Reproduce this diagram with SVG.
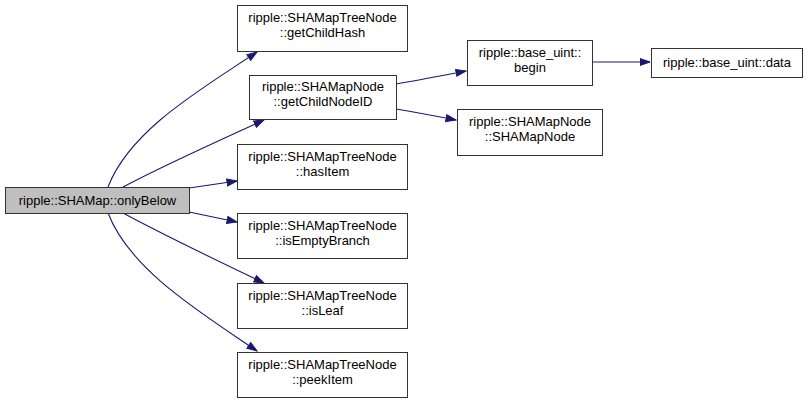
<svg xmlns="http://www.w3.org/2000/svg" width="808" height="403" viewBox="0 0 808 403">
<defs>
<marker id="ah" markerWidth="12" markerHeight="10" refX="10.5" refY="4" orient="auto" markerUnits="userSpaceOnUse">
<path d="M0.5,0.5 L10.5,4 L0.5,7.5 z" fill="#191970" stroke="#191970" stroke-width="1"/>
</marker>
</defs>
<style>
.n rect{fill:#ffffff;stroke:#333333;stroke-width:1}
.n.main rect{fill:#bfbfbf}
.n text{font-family:"Liberation Sans",Arial,sans-serif;font-size:13px;fill:#000000;text-anchor:middle}
.e path{fill:none;stroke:#191970;stroke-width:1.1;marker-end:url(#ah)}
</style>
<rect width="808" height="403" fill="#ffffff"/>
<g id="edges" class="e">
<path d="M108,187 C130,130 200,90 257,52"/>
<path d="M123,187 C160,167 220,140 264,120"/>
<path d="M189,188 L237,181"/>
<path d="M189,212 L237,222"/>
<path d="M123,213 C160,233 220,262 264,283"/>
<path d="M108,213 C130,270 200,312 257,351"/>
<path d="M396,84 C420,80 440,76 466,71"/>
<path d="M396,109 C420,113 435,116 456,120"/>
<path d="M592,62 L650,62"/>
</g>
<g id="onlyBelow" class="n main"><rect x="5.5" y="187.5" width="184" height="26"/><text x="97.5" y="205">ripple::SHAMap::onlyBelow</text></g>
<g id="getChildHash" class="n"><rect x="237.5" y="5.5" width="170" height="46"/><text x="322.5" y="22">ripple::SHAMapTreeNode</text><text x="322.5" y="37">::getChildHash</text></g>
<g id="getChildNodeID" class="n"><rect x="249.5" y="75.5" width="147" height="44"/><text x="323" y="91">ripple::SHAMapNode</text><text x="323" y="106">::getChildNodeID</text></g>
<g id="begin" class="n"><rect x="467.5" y="40.5" width="125" height="45"/><text x="530" y="56.5">ripple::base_uint::</text><text x="530" y="71.5">begin</text></g>
<g id="data" class="n"><rect x="651.5" y="48.5" width="151" height="29"/><text x="727" y="67">ripple::base_uint::data</text></g>
<g id="SHAMapNode" class="n"><rect x="457.5" y="109.5" width="145" height="46"/><text x="530" y="126">ripple::SHAMapNode</text><text x="530" y="141">::SHAMapNode</text></g>
<g id="hasItem" class="n"><rect x="237.5" y="144.5" width="170" height="45"/><text x="322.5" y="160.5">ripple::SHAMapTreeNode</text><text x="322.5" y="175.5">::hasItem</text></g>
<g id="isEmptyBranch" class="n"><rect x="237.5" y="213.5" width="170" height="45"/><text x="322.5" y="229.5">ripple::SHAMapTreeNode</text><text x="322.5" y="244.5">::isEmptyBranch</text></g>
<g id="isLeaf" class="n"><rect x="237.5" y="283.5" width="170" height="45"/><text x="322.5" y="299.5">ripple::SHAMapTreeNode</text><text x="322.5" y="314.5">::isLeaf</text></g>
<g id="peekItem" class="n"><rect x="237.5" y="352.5" width="170" height="45"/><text x="322.5" y="368.5">ripple::SHAMapTreeNode</text><text x="322.5" y="383.5">::peekItem</text></g>
</svg>
